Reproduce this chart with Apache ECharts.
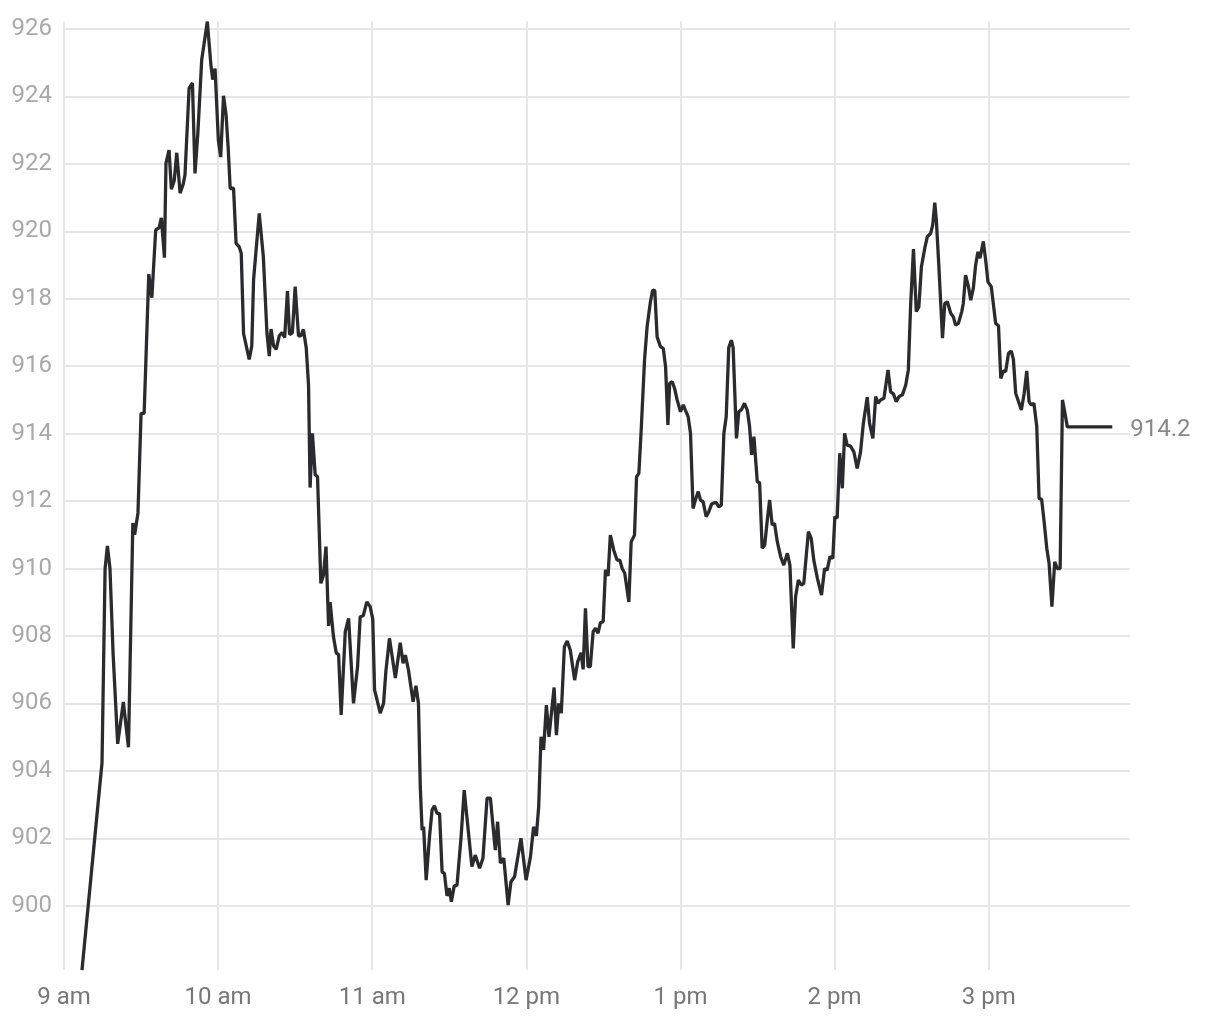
<!DOCTYPE html>
<html>
<head>
<meta charset="utf-8">
<script src="https://cdn.jsdelivr.net/npm/echarts@6/dist/echarts.min.js"></script>
<style>
html,body{margin:0;padding:0;background:#fff;}
#chart{width:1220px;height:1020px;}
</style>
</head>
<body>
<div id="chart"></div>
<script>
// minutes after 9:00 am
const minutes = [
  7.0,14.8,16.0,16.9,17.9,19.1,20.9,23.1,25.1,26.8,27.5,28.8,30.0,31.2,33.0,34.2,35.7,37.0,37.9,39.1,
  39.7,40.9,41.8,42.9,43.9,45.2,46.4,47.1,48.7,50.0,51.0,52.1,53.6,55.8,56.4,57.2,57.9,58.8,60.1,61.0,
  62.1,63.1,63.9,64.7,66.0,67.0,68.2,69.0,69.9,72.1,73.1,73.8,76.0,77.6,79.0,79.9,80.6,81.6,82.6,83.8,
  84.9,85.9,87.0,87.8,88.9,90.0,91.3,92.2,93.2,94.3,95.2,95.8,96.7,97.8,98.7,100.0,101.0,102.0,103.0,103.6,
  104.9,106.0,106.9,107.9,109.5,110.8,112.7,114.3,115.3,116.5,117.9,119.2,120.2,120.9,121.9,123.1,124.4,125.3,125.8,126.7,
  129.0,130.9,132.0,132.9,134.1,135.9,137.0,138.0,138.7,139.4,140.0,141.0,142.3,143.3,144.2,145.2,146.2,147.2,148.1,149.1,
  150.0,150.8,151.9,153.0,154.6,155.8,157.1,158.8,160.1,161.8,163.1,164.7,166.0,167.9,168.8,169.9,171.2,172.9,174.0,175.4,
  177.9,179.9,181.6,182.8,183.9,184.8,185.7,186.7,187.8,188.8,190.8,191.7,192.6,193.6,194.8,195.9,197.1,198.8,200.0,201.3,
  202.1,203.0,204.0,204.9,206.0,206.9,207.9,208.8,209.9,210.8,211.8,212.7,214.0,215.3,216.4,217.3,218.3,219.9,220.8,222.1,
  222.9,223.8,224.7,226.0,227.0,228.3,229.2,230.0,230.9,232.2,233.3,234.2,235.1,235.8,236.8,237.7,238.7,240.0,241.1,241.9,
  243.0,243.9,244.9,245.8,246.9,247.8,248.8,250.0,251.0,252.1,253.2,254.0,254.9,255.9,256.9,257.8,258.8,259.8,260.5,261.8,
  262.7,263.8,264.9,266.0,266.9,267.7,268.6,269.9,270.8,271.8,272.8,273.8,274.7,275.7,276.6,277.7,279.0,280.2,281.6,282.6,
  283.9,284.8,285.9,287.0,288.0,289.8,290.9,291.9,293.3,294.9,296.1,297.1,298.2,299.3,300.1,301.0,302.0,303.0,303.9,304.9,
  306.2,307.5,308.8,310.1,311.2,312.7,313.6,314.9,316.0,316.9,317.9,319.2,320.8,321.8,322.9,324.0,325.1,326.4,327.7,328.7,
  329.6,330.7,331.8,332.8,333.8,335.1,336.1,337.4,338.2,339.0,339.6,340.6,342.0,342.9,343.9,345.2,346.2,347.1,348.2,349.5,
  350.1,351.0,352.1,353.0,354.0,354.9,355.8,356.6,357.9,358.8,359.7,361.0,362.7,363.8,364.7,365.7,366.6,367.7,368.8,369.6,
  370.5,371.4,372.7,373.8,374.8,375.7,376.6,377.6,378.7,379.6,380.6,381.5,382.6,383.5,384.6,385.7,386.7,387.8,388.7,389.7,
  390.6,408.1
];
const prices = [
  898.09,904.24,910.0,910.67,910.0,907.5,904.8,906.04,904.7,911.35,911.0,911.65,914.6,914.6,918.73,918.03,920.04,920.1,920.4,919.22,
  922.02,922.41,921.25,921.5,922.33,921.13,921.4,921.67,924.24,924.4,921.72,922.9,925.08,926.22,925.66,924.93,924.5,924.83,922.7,922.2,
  924.02,923.45,922.5,921.27,921.28,919.64,919.54,919.35,916.97,916.2,916.6,918.56,920.53,919.25,917.0,916.3,917.1,916.6,916.5,916.9,
  917.0,916.85,918.23,916.94,916.99,918.36,916.9,916.9,917.09,916.55,915.44,912.4,914.01,912.78,912.72,909.56,909.8,910.65,908.3,909.0,
  907.98,907.49,907.45,905.66,908.13,908.52,906.0,907.1,908.57,908.6,909.01,908.87,908.5,906.4,906.1,905.71,906.0,906.94,906.99,907.93,
  906.75,907.8,907.19,907.43,906.99,906.05,906.52,906.0,903.53,902.24,902.34,900.76,902.05,902.84,902.96,902.74,902.74,901.0,900.96,900.29,
  900.52,900.12,900.58,900.61,902.05,903.43,902.44,901.16,901.5,901.11,901.41,903.19,903.19,901.65,902.49,901.26,901.41,900.02,900.71,900.86,
  902.0,900.76,901.45,902.34,902.07,902.94,905.01,904.62,905.95,905.01,906.47,905.06,906.0,905.71,907.68,907.85,907.58,906.69,907.24,907.5,
  907.01,908.82,907.09,907.09,908.13,908.23,908.08,908.39,908.42,909.96,909.78,910.99,910.55,910.25,910.25,910.0,909.86,909.01,910.79,910.99,
  912.72,912.82,914.1,916.18,917.17,917.91,918.26,918.24,916.87,916.58,916.53,915.98,914.26,915.49,915.54,915.34,915.0,914.65,914.85,914.7,
  914.5,914.01,911.78,912.03,912.28,912.03,911.98,911.54,911.68,911.91,911.95,911.95,911.83,911.88,914.01,914.5,916.55,916.77,916.55,913.86,
  914.65,914.72,914.9,914.7,914.21,913.37,913.91,912.57,912.55,910.6,910.7,911.44,912.03,911.29,911.34,910.79,910.35,910.1,910.45,910.1,
  907.63,909.16,909.66,909.51,909.56,911.09,910.89,910.25,909.71,909.21,910.0,909.95,910.35,910.3,911.54,911.49,913.42,912.38,914.01,913.66,
  913.63,913.46,912.97,913.46,914.31,915.08,914.31,913.86,915.1,914.9,915.0,915.05,915.89,915.24,915.18,914.95,915.1,915.15,915.44,915.89,
  917.81,919.47,917.62,917.76,918.95,919.5,919.84,919.94,920.19,920.85,920.34,918.95,916.83,917.86,917.91,917.57,917.47,917.22,917.27,917.62,
  917.86,918.7,918.36,917.96,918.31,919.0,919.39,919.2,919.7,919.15,918.5,918.36,917.27,917.2,915.64,915.86,915.84,916.38,916.45,916.2,
  915.2,915.0,914.7,915.19,915.86,914.95,914.85,914.9,914.21,912.08,912.05,911.44,910.6,910.15,908.87,910.2,910.0,910.0,915.0,914.6,
  914.2,914.2
];
const xTickLabels = ['9 am','10 am','11 am','12 pm','1 pm','2 pm','3 pm'];
const xMaxMinutes = 415;

const data = minutes.map((m, i) => [m, prices[i]]);
const FONT = 'Roboto, "Noto Sans", sans-serif';

const chart = echarts.init(document.getElementById('chart'), null, {renderer: 'canvas'});
chart.setOption({
  animation: false,
  backgroundColor: '#ffffff',
  grid: {left: 64, right: 90, top: 21.6, bottom: 49.9, containLabel: false, outerBoundsMode: 'none'},
  xAxis: {
    type: 'value',
    min: 0,
    max: xMaxMinutes,
    interval: 60,
    axisLine: {show: false},
    axisTick: {show: false},
    splitLine: {show: true, showMaxLine: false, lineStyle: {color: '#e6e6e6', width: 2}},
    axisLabel: {
      showMaxLabel: false,
      margin: 16,
      color: '#777777',
      fontSize: 24,
      fontFamily: FONT,
      formatter: v => { const k = Math.round(v / 60); return (Math.abs(v - k * 60) < 1e-6 && xTickLabels[k]) ? xTickLabels[k] : ''; }
    }
  },
  yAxis: {
    type: 'value',
    min: 'dataMin',
    max: 'dataMax',
    splitNumber: 14,
    scale: true,
    axisLine: {show: false},
    axisTick: {show: false},
    splitLine: {show: true, showMinLine: false, showMaxLine: false, lineStyle: {color: '#e6e6e6', width: 2}},
    axisLabel: {
      showMinLabel: false,
      showMaxLabel: false,
      margin: 12,
      color: '#a8a8a8',
      fontSize: 24,
      fontFamily: FONT,
      formatter: v => (Math.abs(v - Math.round(v)) < 1e-6 ? String(Math.round(v)) : '')
    }
  },
  series: [{
    type: 'line',
    data: data,
    showSymbol: false,
    symbol: 'none',
    lineStyle: {color: '#2b2b2e', width: 3.3},
    endLabel: {
      show: true,
      distance: 18,
      offset: [0, 3],
      color: '#888888',
      fontSize: 24,
      fontFamily: FONT,
      formatter: p => p.value[1].toFixed(1)
    }
  }]
});
</script>
</body>
</html>
